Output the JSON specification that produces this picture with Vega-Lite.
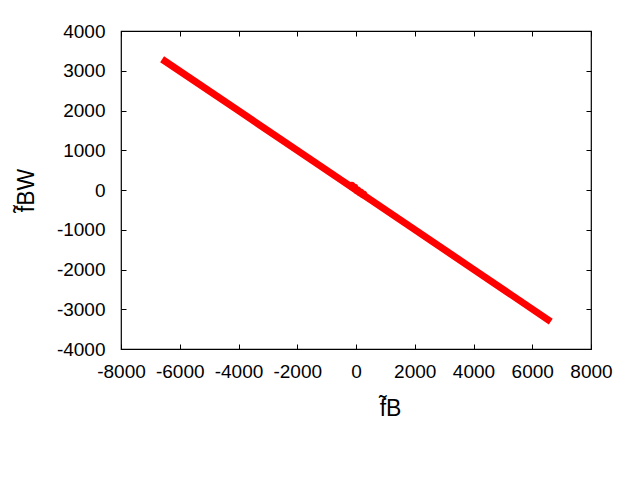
{
  "$schema": "https://vega.github.io/schema/vega-lite/v6.json",
  "width": 470,
  "height": 318,
  "autosize": "none",
  "padding": {"left": 121, "top": 31, "right": 49, "bottom": 131},
  "background": "white",
  "config": {
    "font": "Liberation Sans",
    "view": {"stroke": "black", "strokeWidth": 1.2},
    "axis": {
      "domain": false,
      "grid": false,
      "tickColor": "black",
      "tickSize": -5,
      "tickWidth": 1,
      "labelFont": "Liberation Sans",
      "labelFontSize": 19,
      "labelColor": "black",
      "labelExpr": "'' + datum.value",
      "titleFont": "Liberation Sans",
      "titleFontSize": 23,
      "titleFontWeight": "normal",
      "titleColor": "black"
    }
  },
  "datasets": {
    "main": [
      {"fB": -6600, "fBW": 3290},
      {"fB": -4000, "fBW": 1995},
      {"fB": -2000, "fBW": 998},
      {"fB": -500, "fBW": 250},
      {"fB": 0, "fBW": 0},
      {"fB": 500, "fBW": -250},
      {"fB": 2000, "fBW": -998},
      {"fB": 4000, "fBW": -1995},
      {"fB": 6630, "fBW": -3310}
    ],
    "blob": [
      {"fB": -150, "fBW": 110},
      {"fB": -50, "fBW": 60},
      {"fB": 50, "fBW": -10},
      {"fB": 150, "fBW": -60},
      {"fB": 250, "fBW": -110}
    ]
  },
  "resolve": {"axis": {"x": "independent", "y": "independent"}},
  "layer": [
    {
      "data": {"name": "main"},
      "mark": {"type": "line", "color": "#ff0000", "strokeWidth": 7, "clip": true},
      "encoding": {
        "x": {
          "field": "fB", "type": "quantitative",
          "scale": {"domain": [-8000, 8000], "nice": false, "zero": false},
          "axis": {"values": [-8000, -6000, -4000, -2000, 0, 2000, 4000, 6000, 8000], "labelPadding": 18, "labelFlush": false, "title": "f̃B", "titlePadding": 16, "titleX": 269}
        },
        "y": {
          "field": "fBW", "type": "quantitative",
          "scale": {"domain": [-4000, 4000], "nice": false, "zero": false},
          "axis": {"values": [-4000, -3000, -2000, -1000, 0, 1000, 2000, 3000, 4000], "labelPadding": 21, "labelFlush": false, "title": "f̃BW", "titlePadding": 18}
        }
      }
    },
    {
      "data": {"name": "blob"},
      "mark": {"type": "circle", "color": "#ff0000", "opacity": 1, "size": 60},
      "encoding": {
        "x": {
          "field": "fB", "type": "quantitative",
          "axis": {"orient": "top", "labels": false, "title": null, "values": [-8000, -6000, -4000, -2000, 0, 2000, 4000, 6000, 8000]}
        },
        "y": {
          "field": "fBW", "type": "quantitative",
          "axis": {"orient": "right", "labels": false, "title": null, "values": [-4000, -3000, -2000, -1000, 0, 1000, 2000, 3000, 4000]}
        }
      }
    }
  ]
}
